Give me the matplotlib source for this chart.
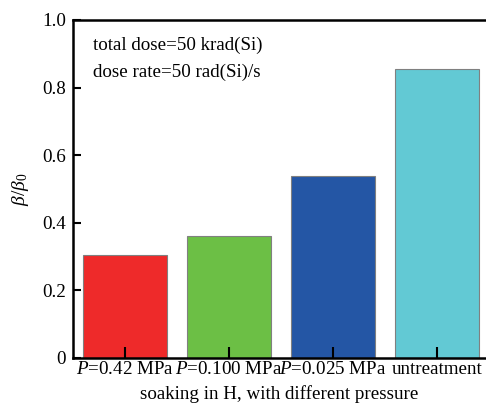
import matplotlib
matplotlib.use("Agg")
import matplotlib.pyplot as plt

categories = ["$P$=0.42 MPa", "$P$=0.100 MPa", "$P$=0.025 MPa", "untreatment"]
ratios = [0.305, 0.362, 0.537, 0.855]
bar_colors = ["#ee2a2a", "#6cbf45", "#2456a5", "#62c9d4"]

plt.rcParams["font.family"] = "Liberation Serif"
plt.rcParams["mathtext.fontset"] = "custom"
plt.rcParams["mathtext.rm"] = "Liberation Serif"
plt.rcParams["mathtext.it"] = "Liberation Serif:italic"

fig = plt.figure(figsize=(4.86, 4.07), dpi=100)
ax = fig.add_axes([73 / 486, 1 - 358 / 407, 413 / 486, 338 / 407])

x = range(len(categories))
ax.bar(x, ratios, width=0.8, color=bar_colors, edgecolor="#808080", linewidth=0.8)

ax.set_xlim(-0.5, 3.47)
ax.set_ylim(0, 1.0)
ax.set_yticks([0, 0.2, 0.4, 0.6, 0.8, 1.0])
ax.set_yticklabels(["0", "0.2", "0.4", "0.6", "0.8", "1.0"])
ax.set_xticks(list(x))
ax.set_xticklabels(categories)

ax.spines["right"].set_visible(False)
for s in ["left", "top", "bottom"]:
    ax.spines[s].set_linewidth(1.8)
ax.tick_params(axis="both", direction="in", labelsize=13.7, width=1.5)
ax.tick_params(axis="y", length=6, pad=5)
ax.tick_params(axis="x", length=8, pad=2)

ax.set_xlabel("soaking in H, with different pressure", fontsize=13.7, labelpad=5)
ax.set_ylabel(r"$\beta/\beta_0$", fontsize=14, labelpad=8)

ax.text(0.048, 0.925, "total dose=50 krad(Si)", transform=ax.transAxes,
        fontsize=13.7, va="center")
ax.text(0.048, 0.845, "dose rate=50 rad(Si)/s", transform=ax.transAxes,
        fontsize=13.7, va="center")

fig.savefig("out.png", dpi=100)
